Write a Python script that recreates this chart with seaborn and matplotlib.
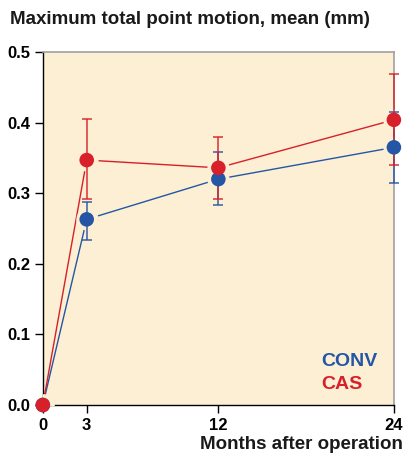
import numpy as np
import pandas as pd
import matplotlib
matplotlib.use("Agg")
import matplotlib.pyplot as plt
import seaborn as sns

# data
months = [0, 3, 12, 24]
conv_mean = [0.0, 0.263, 0.320, 0.365]
conv_low = [0.0, 0.234, 0.283, 0.314]
conv_high = [0.0, 0.287, 0.358, 0.415]
cas_mean = [0.0, 0.347, 0.336, 0.404]
cas_low = [0.0, 0.292, 0.292, 0.340]
cas_high = [0.0, 0.405, 0.380, 0.469]
groups = ["CONV", "CAS"]

blue = "#2456a5"
red = "#d7202a"
bg = "#fcefd3"

sns.set_style("ticks")
plt.rcParams['font.family'] = ['Liberation Sans', 'DejaVu Sans']

df = pd.DataFrame({
    'month': months * 2,
    'motion': conv_mean + cas_mean,
    'group': ["CONV"] * 4 + ["CAS"] * 4,
})

fig = plt.figure(figsize=(4.04, 4.59), dpi=100)
ax = fig.add_axes([0.106, 0.1176, 0.869, 0.769])
ax.set_facecolor(bg)

# connecting lines
sns.lineplot(data=df, x='month', y='motion', hue='group', hue_order=groups,
             palette=[blue, red], lw=1, ax=ax, legend=False, zorder=2)
# gaps around the points (kept inside the axes)
for g in groups:
    sub = df[df.group == g]
    ax.plot(sub.month, sub.motion, ls='none', marker='o', ms=15,
            mfc=bg, mec=bg, zorder=3, clip_on=True)

# error bars
for mean, low, high, c in [(conv_mean, conv_low, conv_high, blue),
                           (cas_mean, cas_low, cas_high, red)]:
    m = np.array(mean)
    err = [m - np.array(low), np.array(high) - m]
    ax.errorbar(months[1:], m[1:], yerr=[err[0][1:], err[1][1:]], fmt='none',
                ecolor=c, elinewidth=1.2, capsize=3.5, capthick=1.2, zorder=4,
                alpha=0.85, clip_on=False)

# markers
sns.scatterplot(data=df, x='month', y='motion', hue='group', hue_order=groups,
                palette=[blue, red], s=110, edgecolor='none', ax=ax,
                legend=False, zorder=5, clip_on=False)

ax.set_xlim(0, 24)
ax.set_ylim(0, 0.5)
ax.set_xticks(months)
ax.set_yticks([0, 0.1, 0.2, 0.3, 0.4, 0.5])
ax.set_yticklabels(["0.0", "0.1", "0.2", "0.3", "0.4", "0.5"])
ax.tick_params(axis='both', labelsize=12, length=6, width=1, colors='black',
               pad=3)
for lab in ax.get_xticklabels() + ax.get_yticklabels():
    lab.set_fontweight('bold')
ax.set_xlabel("")
ax.set_ylabel("")

for s in ['left', 'bottom']:
    ax.spines[s].set_color('black')
    ax.spines[s].set_linewidth(1)
for s in ['top', 'right']:
    ax.spines[s].set_visible(True)
    ax.spines[s].set_color('#a0a0a0')
    ax.spines[s].set_linewidth(1.2)

fig.text(0.025, 0.958, "Maximum total point motion, mean (mm)", fontsize=13.5,
         fontweight='bold', ha='left', va='center', color='#1a1a1a')
fig.text(0.998, 0.013, "Months after operation", fontsize=13.5,
         fontweight='bold', ha='right', va='bottom', color='#1a1a1a')

ax.text(0.792, 0.122, "CONV", transform=ax.transAxes, color=blue,
        fontsize=14, fontweight='bold', ha='left', va='center')
ax.text(0.792, 0.059, "CAS", transform=ax.transAxes, color=red,
        fontsize=14, fontweight='bold', ha='left', va='center')

fig.savefig("out.png", dpi=100, facecolor='white')
